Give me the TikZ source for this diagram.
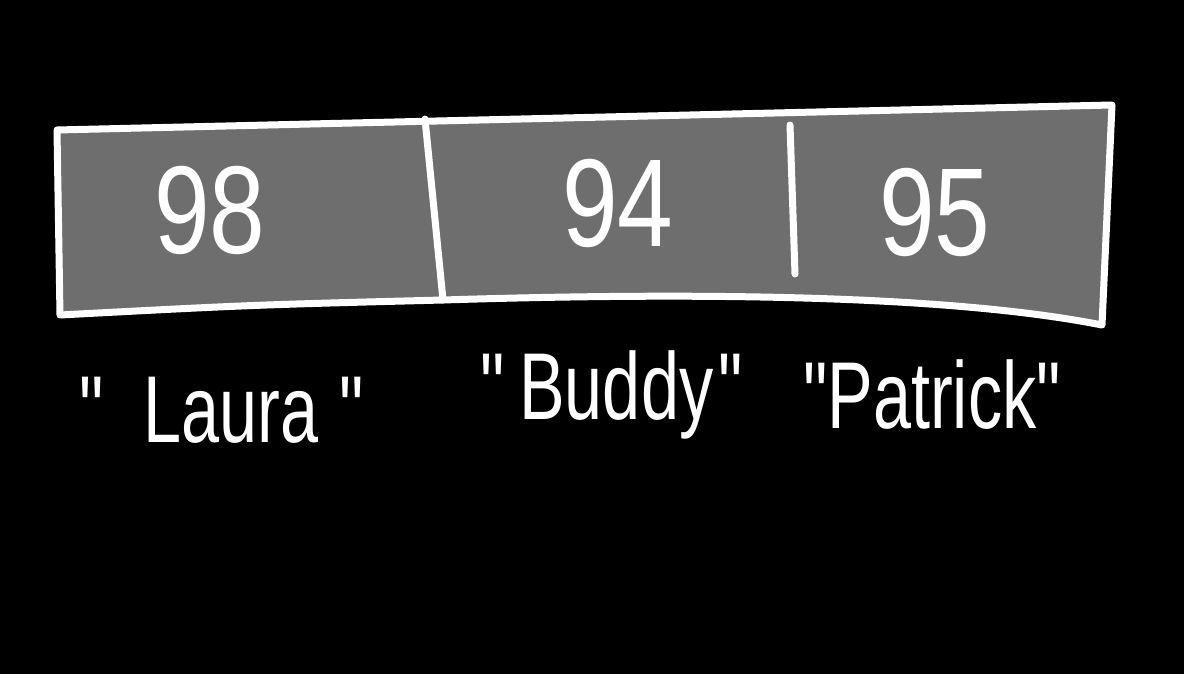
\documentclass[tikz,border=0pt]{standalone}
\usepackage{fontspec}
\setmainfont{Liberation Sans}
\begin{document}
\begin{tikzpicture}[x=1pt,y=-1pt,
  outline/.style={draw=white,line width=7pt,line cap=round,line join=round},
  num/.style={text=white,font=\fontsize{125}{125}\selectfont,xscale=0.8,inner sep=0pt},
  lbl/.style={text=white,font=\fontsize{95}{95}\selectfont,xscale=0.72,inner sep=0pt}]
\useasboundingbox[fill=black] (0,0) rectangle (1184,674);
% box corners
\coordinate (tl) at (57,130);
\coordinate (tr) at (1112,105);
\coordinate (br) at (1102,325);
\coordinate (bl) at (60,315);
\coordinate (d1t) at (425,119);
\coordinate (d1b) at (443,300);
\coordinate (d2t) at (790,125);
\coordinate (d2b) at (795,274);
\path[fill={rgb,255:red,110;green,110;blue,110},outline]
  (tl) -- (tr) -- (br) .. controls (950,295) and (700,292) .. (d1b)
  .. controls (250,305) .. (bl) -- cycle;
\draw[outline] (d1t) -- (d1b);
\draw[outline] (d2t) -- (d2b);
% cell values
\node[num] (v1) at (210,210) {98};
\node[num] (v2) at (618,203) {94};
\node[num] (v3) at (935,212) {95};
% labels
\node[lbl] (l1) at (222,410) {\textquotedbl\hspace{55pt}Laura\hspace{30pt}\textquotedbl};
\node[lbl] (l2) at (612,395) {\textquotedbl\hspace{20pt}Buddy\hspace{8pt}\textquotedbl};
\node[lbl] (l3) at (932,395) {\textquotedbl Patrick\textquotedbl};
\end{tikzpicture}
\end{document}
